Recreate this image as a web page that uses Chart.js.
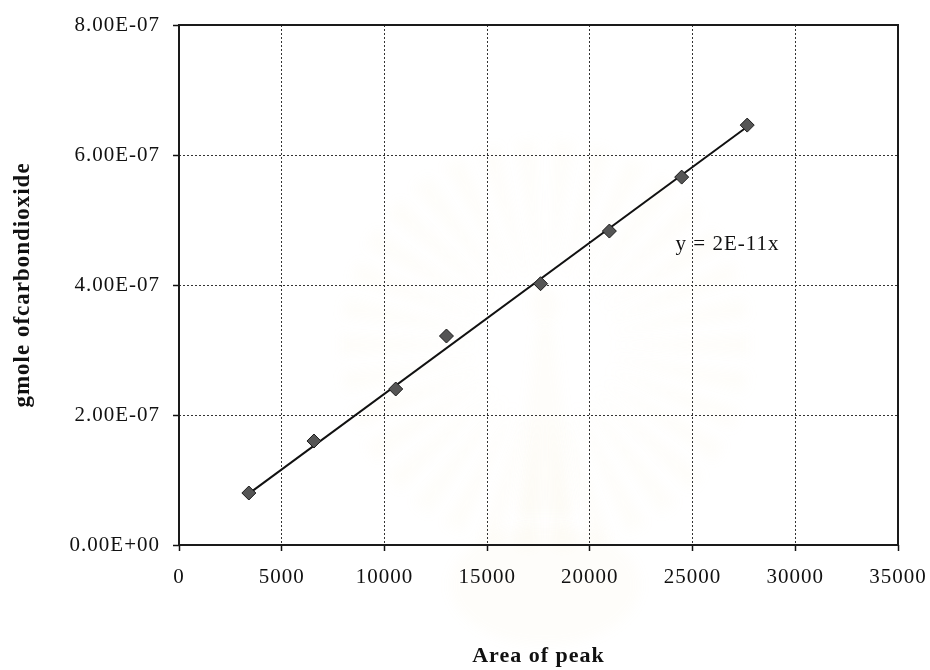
<!DOCTYPE html>
<html>
<head>
<meta charset="utf-8">
<script src="https://cdn.jsdelivr.net/npm/chart.js@4/dist/chart.umd.min.js"></script>
<style>
  html, body { margin: 0; padding: 0; background: #fff; }
  #wrap { width: 930px; height: 670px; }
</style>
</head>
<body>
<div id="wrap"><canvas id="c" width="930" height="670"></canvas></div>
<script>
// Calibration: peak area from the chromatogram vs. moles of CO2 injected
const peakArea = [3400, 6570, 10550, 13020, 17600, 20950, 24470, 27660];
const gmoleCO2 = [8.0e-8, 1.6e-7, 2.4e-7, 3.215e-7, 4.02e-7, 4.83e-7, 5.66e-7, 6.46e-7];

const xTicks = [0, 5000, 10000, 15000, 20000, 25000, 30000, 35000];
const yTicks = [0, 2e-7, 4e-7, 6e-7, 8e-7];

const xTitle = 'Area of peak';
const yTitle = 'gmole ofcarbondioxide';

// Where the trendline equation sits, in data units
const eqAnchor = { x: 26700, y: 4.62e-7 };

// Spreadsheet-style scientific notation: 8.00E-07
function sci(v, digits) {
  const [m, e] = v.toExponential(digits).split('e');
  const n = parseInt(e, 10);
  return m + 'E' + (n < 0 ? '-' : '+') + String(Math.abs(n)).padStart(2, '0');
}

// Least-squares line forced through the origin
let sxy = 0, sxx = 0;
peakArea.forEach((x, i) => { sxy += x * gmoleCO2[i]; sxx += x * x; });
const slope = sxy / sxx;
const xMin = Math.min(...peakArea), xMax = Math.max(...peakArea);
const trend = [{ x: xMin, y: slope * xMin }, { x: xMax, y: slope * xMax }];
const eqText = 'y = ' + sci(slope, 0) + 'x';

const points = peakArea.map((x, i) => ({ x, y: gmoleCO2[i] }));

const SERIF = '"Liberation Serif", "Times New Roman", serif';
const INK = '#111';

const spacing = {
  id: 'spacing',
  beforeUpdate(chart) { chart.ctx.letterSpacing = '1px'; },
  beforeDraw(chart) { chart.ctx.letterSpacing = '1px'; }
};

// Pale emblem watermark printed on the page behind the plot
const watermark = {
  id: 'watermark',
  beforeDraw(chart) {
    const ctx = chart.ctx;
    const cx = 545, cy = 345;
    ctx.save();
    ctx.filter = 'blur(6px)';
    ctx.fillStyle = 'rgba(236, 214, 150, 0.05)';
    const n = 34;
    for (let i = 0; i < n; i++) {
      const a = (i / n) * Math.PI * 2;
      const w = Math.PI / n * 0.55;
      const r0 = 70, r1 = 205;
      ctx.beginPath();
      ctx.moveTo(cx + Math.cos(a - w * 0.4) * r0, cy + Math.sin(a - w * 0.4) * r0);
      ctx.lineTo(cx + Math.cos(a - w) * r1, cy + Math.sin(a - w) * r1);
      ctx.lineTo(cx + Math.cos(a + w) * r1, cy + Math.sin(a + w) * r1);
      ctx.lineTo(cx + Math.cos(a + w * 0.4) * r0, cy + Math.sin(a + w * 0.4) * r0);
      ctx.closePath();
      ctx.fill();
    }
    // spire and base of the emblem
    ctx.fillStyle = 'rgba(236, 214, 150, 0.045)';
    ctx.beginPath();
    ctx.ellipse(cx, cy - 40, 14, 18, 0, 0, Math.PI * 2);
    ctx.fill();
    ctx.beginPath();
    ctx.moveTo(cx - 8, cy - 20);
    ctx.lineTo(cx + 8, cy - 20);
    ctx.lineTo(cx + 30, cy + 170);
    ctx.lineTo(cx - 30, cy + 170);
    ctx.closePath();
    ctx.fill();
    ctx.beginPath();
    ctx.ellipse(cx, cy + 240, 95, 60, 0, 0, Math.PI * 2);
    ctx.fill();
    ctx.restore();
  }
};

const frame = {
  id: 'frame',
  beforeDatasetsDraw(chart) {
    const { ctx, chartArea: a } = chart;
    ctx.save();
    ctx.strokeStyle = '#1a1a1a';
    ctx.lineWidth = 2;
    ctx.strokeRect(a.left, a.top, a.right - a.left, a.bottom - a.top);
    ctx.restore();
  }
};

const equation = {
  id: 'equation',
  afterDatasetsDraw(chart) {
    const { ctx, scales } = chart;
    ctx.save();
    ctx.letterSpacing = '1px';
    ctx.font = '21px ' + SERIF;
    ctx.fillStyle = INK;
    ctx.textAlign = 'center';
    ctx.textBaseline = 'middle';
    ctx.fillText(eqText, scales.x.getPixelForValue(eqAnchor.x), scales.y.getPixelForValue(eqAnchor.y));
    ctx.restore();
  }
};

const gridCommon = {
  color: '#333',
  lineWidth: 1,
  borderDash: [2, 2],
  drawTicks: true,
  tickLength: 6,
  tickColor: INK,
  tickWidth: 1.5,
  tickBorderDash: []
};

new Chart(document.getElementById('c'), {
  type: 'scatter',
  data: {
    datasets: [
      {
        data: points,
        pointStyle: 'rectRot',
        pointRadius: 7,
        backgroundColor: '#555',
        borderColor: '#1a1a1a',
        borderWidth: 1,
        order: 0
      },
      {
        data: trend,
        showLine: true,
        borderColor: INK,
        borderWidth: 2,
        pointRadius: 0,
        order: 1
      }
    ]
  },
  options: {
    responsive: false,
    animation: false,
    events: [],
    layout: { padding: { left: 0, right: 32, top: 25, bottom: 0 } },
    plugins: { legend: { display: false }, tooltip: { enabled: false } },
    scales: {
      x: {
        type: 'linear',
        min: 0,
        max: 35000,
        afterBuildTicks: s => { s.ticks = xTicks.map(v => ({ value: v })); },
        afterFit: s => { s.height = 125; s.paddingLeft = 0; s.paddingRight = 0; },
        ticks: { font: { family: SERIF, size: 21 }, color: INK, padding: 14, maxRotation: 0, autoSkip: false, callback: v => String(v) },
        grid: gridCommon,
        border: { display: false, dash: [2, 2] },
        title: { display: true, text: xTitle, color: INK, font: { family: SERIF, size: 22, weight: 'bold' }, padding: { top: 0, bottom: 0 } }
      },
      y: {
        type: 'linear',
        min: 0,
        max: 8e-7,
        afterBuildTicks: s => { s.ticks = yTicks.map(v => ({ value: v })); },
        afterFit: s => { s.width = 179; s.paddingTop = 0; s.paddingBottom = 0; },
        ticks: { font: { family: SERIF, size: 21 }, color: INK, padding: 13, autoSkip: false, callback: v => sci(v, 2) },
        grid: gridCommon,
        border: { display: false, dash: [2, 2] },
        title: { display: true, text: yTitle, color: INK, font: { family: SERIF, size: 23, weight: 'bold' }, padding: { top: 9, bottom: 0 } }
      }
    }
  },
  plugins: [spacing, watermark, frame, equation]
});
</script>
</body>
</html>
